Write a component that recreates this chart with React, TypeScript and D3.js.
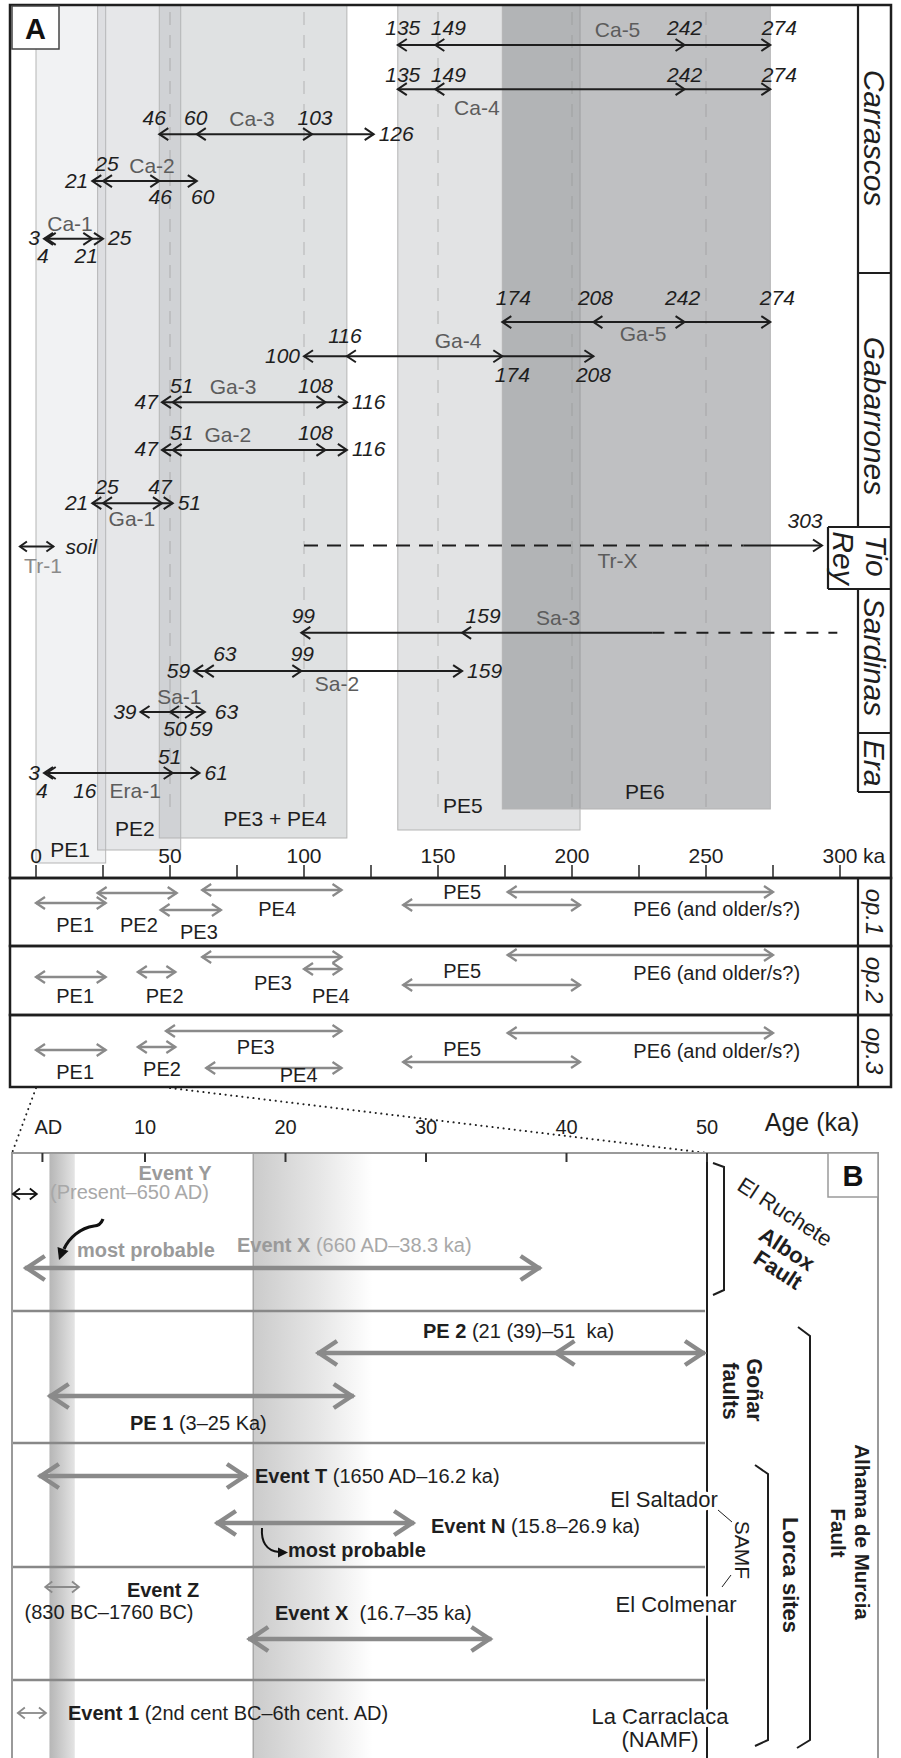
import React from 'react';
import * as d3 from 'd3';

const FONT = '"Liberation Sans", Arial, Helvetica, sans-serif';
const W = 901;
const H = 1758;

// ---------- panel A : trench ages (ka) ----------
const trenches = ['Ca-5', 'Ca-4', 'Ca-3', 'Ca-2', 'Ca-1', 'Ga-5', 'Ga-4', 'Ga-3', 'Ga-2', 'Ga-1', 'Sa-3', 'Sa-2', 'Sa-1', 'Era-1'];
const ageMin = [135, 135, 46, 21, 3, 174, 100, 47, 47, 21, 99, 59, 39, 3];
const ageMinInner = [149, 149, 60, 25, 4, 208, 116, 51, 51, 25, 159, 63, 50, 4];
const ageMaxInner = [242, 242, 103, 46, 21, 242, 174, 108, 108, 47, null, 99, 59, 51];
const ageMax = [274, 274, 126, 60, 25, 274, 208, 116, 116, 51, null, 159, 63, 61];
const sa3Open = [230, 299]; // solid until, dashed until
const trX = [100, 264, 303]; // dashed from, solid from, arrow to
const soilSpan = [-6, 6.5];
const era1Extra = 16;

const bands = ['PE1', 'PE2', 'PE3 + PE4', 'PE5', 'PE6'];
const bandFrom = [0, 23, 46, 135, 174];
const bandTo = [26, 54, 116, 203, 274];

const sites = ['Carrascos', 'Gabarrones', 'Tio', 'Sardinas', 'Era'];
const ticksA = d3.range(0, 301, 25);
const gridA = [50, 100, 150, 200, 250];

// ---------- options ----------
const opNames = ['op.1', 'op.2', 'op.3'];
const opEvents = ['PE1', 'PE2', 'PE3', 'PE4', 'PE5', 'PE6 (and older/s?)'];
const op1From = [0, 23, 46.5, 62, 137, 176];
const op1To = [26, 52.5, 69, 114, 203, 275];
const op2From = [0, 38, 62, 100, 137, 176];
const op2To = [26, 52, 114, 114, 203, 275];
const op3From = [0, 38, 48.5, 63.5, 137, 176];
const op3To = [26, 52, 114, 114, 203, 275];

// ---------- panel B ----------
const bTickVals = [2.7, 10, 20, 30, 40, 50];
const bTickLabels = ['AD', '10', '20', '30', '40', '50'];
const bEventNames = ['Event Y', 'Event X', 'PE 2', 'PE 1', 'Event T', 'Event N', 'Event Z', 'Event X', 'Event 1'];
const bEventRanges = ['(Present–650 AD)', ' (660 AD–38.3 ka)', ' (21 (39)–51  ka)', ' (3–25 Ka)', ' (1650 AD–16.2 ka)', ' (15.8–26.9 ka)', '(830 BC–1760 BC)', '  (16.7–35 ka)', ' (2nd cent BC–6th cent. AD)'];
const bFrom = [0.6, 1.3, 22.1, 3, 2.3, 14.9, 2.9, 17.2, 0.95];
const bTo = [2.3, 38.3, 50, 25, 17.4, 29.3, 5.3, 34.8, 2.95];
const pe2Inner = 39;
const bBandFrom = [3.2, 17.7];
const bBandTo = [5, 26.2];

// ---------- layout ----------
const xA = d3.scaleLinear().domain([0, 300]).range([36, 840]);
const xB = d3.scaleLinear().domain([10, 50]).range([145, 707]);
const lane = d3.scaleLinear().domain([0, 16]).range([45, 773]);

const laneOf = [0, 0.97, 1.96, 2.99, 4.26, 6.09, 6.84, 7.85, 8.9, 10.07, 12.92, 13.76, 14.66, 16];
const trLane = 11;
const numSide = ['AAAA', 'AAAA', 'AAAR', 'LABB', 'LBBR', 'AAAA', 'LABB', 'LAAR', 'LAAR', 'LAAR', 'AA--', 'LAAR', 'LBBR', 'LBAR'];
const numNudge = [
  [2, 10, -3, 6], [2, 10, -3, 6], [-8, -4, 0, 0], [0, 1, -2, 3], [0, -7, -9, 0],
  [8, -1, -5, 4], [0, -5, 7, -3], [0, 6, -13, 0], [0, 6, -13, 0], [0, 1, -5, 0],
  [-1, 18, 0, 0], [0, 17, -2, 0], [0, 2, 4, 5], [0, -8, -6, 0],
];
const aboveGap = [10, 7, 9, 10, 10, 17, 13, 9, 10, 9, 10, 10, 10, 9];
const belowGap = [24, 26, 24, 23, 24, 19, 26, 24, 24, 23, 24, 20, 24, 25];
const nameAt = [217, 164.5, 80.6, 43.3, 12.7, 226.5, 157.5, 73.5, 71.6, 35.8, 194.8, 112.3, 53.5, 37];
const nameSide = 'ABAAABAAABABAB';

const bandFill = ['#c9cdd0', '#b8bbbf', '#b0b3b7', '#b0b3b7', '#8d8f92'];
const bandOpacity = [0.25, 0.35, 0.4, 0.37, 0.56];
const bandBottom = [863, 850, 838, 830, 809];
const bandLabelAt = [12.7, 36.9, 89.2, 159.3, 227.2];
const bandLabelY = [857, 836, 826, 813, 799];

const siteTop = [5, 273, 527, 589, 733];
const siteBottom = [273, 527, 589, 733, 792];
const siteLabelY = [138, 416, 556, 657, 763];

const opTop = [878, 946, 1015];
const opBottom = 1087;
const opFrom = [op1From, op2From, op3From];
const opTo = [op1To, op2To, op3To];
const opArrowDy = [[25, 15, 32, 12, 27, 14], [31, 26, 11, 23, 39, 9], [35, 32, 16, 53, 47, 18]];
const opLabelKa = [[14.6, 38.4, 60.8, 90, 159, 254], [14.6, 48, 88.4, 110, 159, 254], [14.6, 47, 82, 98, 159, 254]];
const opLabelDy = [[54, 54, 61, 38, 21, 38], [57, 57, 44, 57, 32, 34], [64, 61, 39, 67, 41, 43]];
const opLabelY = [912, 980, 1051];

const bTop = 1153;
const bRowY = [1194, 1268, 1353, 1396, 1476, 1523, 1587, 1639, 1713];
const bKind = ['thinBlack', 'thick', 'thick', 'thick', 'thick', 'thick', 'thinGray', 'thick', 'thinGray'];
const bSeparators = [1311, 1443, 1567, 1680];

const INK = '#1e1e1e';
const GREY_NAME = '#5c5c5c';
const ARROW_B = '#8a8a8a';

const Head = ({ x, y, dir, dx, dy, color, sw }) => (
  <path
    d={`M${x - dir * dx},${y - dy}L${x},${y}L${x - dir * dx},${y + dy}`}
    fill="none"
    stroke={color}
    strokeWidth={sw}
    strokeLinejoin="miter"
  />
);

const Rot = ({ x, y, angle = 90, children, ...rest }) => (
  <text transform={`translate(${x},${y}) rotate(${angle})`} textAnchor="middle" dominantBaseline="central" {...rest}>
    {children}
  </text>
);

function TrenchRow({ i }) {
  const y = lane(laneOf[i]);
  const ages = [ageMin[i], ageMinInner[i], ageMaxInner[i], ageMax[i]];
  const dirs = [-1, -1, 1, 1];
  const x0 = xA(ageMin[i]);
  const open = ageMax[i] == null;
  const x1 = open ? xA(sa3Open[0]) : xA(ageMax[i]);
  const sides = numSide[i];
  const num = (a, k) => {
    const s = sides[k];
    if (s === '-' || a == null) return null;
    const x = xA(a);
    const nd = numNudge[i][k];
    let tx = x + 3 + nd, ty = y - aboveGap[i], anchor = 'middle';
    if (s === 'B') ty = y + belowGap[i];
    if (s === 'L') { tx = x - 4 + nd; ty = y + 6.5; anchor = 'end'; }
    if (s === 'R') { tx = x + 5 + nd; ty = y + 6.5; anchor = 'start'; }
    return (
      <text key={k} x={tx} y={ty} textAnchor={anchor} fontStyle="italic" fontSize={21} fill={INK}>
        {a}
      </text>
    );
  };
  return (
    <g>
      <line x1={x0} x2={x1} y1={y} y2={y} stroke={INK} strokeWidth={2} />
      {open && (
        <line x1={x1} x2={xA(sa3Open[1])} y1={y} y2={y} stroke={INK} strokeWidth={2} strokeDasharray="12 10" />
      )}
      {ages.map((a, k) =>
        a == null ? null : <Head key={k} x={xA(a)} y={y} dir={dirs[k]} dx={9} dy={6} color={INK} sw={2} />
      )}
      {ages.map(num)}
      {trenches[i] === 'Era-1' && (
        <text x={xA(era1Extra) + 6} y={y + belowGap[i]} textAnchor="middle" fontStyle="italic" fontSize={21} fill={INK}>
          {era1Extra}
        </text>
      )}
      <text
        x={xA(nameAt[i])}
        y={nameSide[i] === 'A' ? y - 8 : y + belowGap[i]}
        textAnchor="middle"
        fontSize={21}
        fill={GREY_NAME}
      >
        {trenches[i]}
      </text>
    </g>
  );
}

function BArrow({ i }) {
  const y = bRowY[i];
  const a = xB(bFrom[i]);
  const b = Math.min(xB(bTo[i]), xB(50));
  if (bKind[i] === 'thick') {
    const sw = 4.5;
    return (
      <g>
        <line x1={a + 2} x2={b - 2} y1={y} y2={y} stroke={ARROW_B} strokeWidth={sw} />
        <Head x={a + 4} y={y} dir={-1} dx={18} dy={12} color={ARROW_B} sw={sw} />
        <Head x={b - 4} y={y} dir={1} dx={18} dy={12} color={ARROW_B} sw={sw} />
        {i === 2 && <Head x={xB(pe2Inner) + 4} y={y} dir={-1} dx={18} dy={12} color={ARROW_B} sw={sw} />}
      </g>
    );
  }
  const c = bKind[i] === 'thinBlack' ? '#111' : '#8a8a8a';
  return (
    <g>
      <line x1={a} x2={b} y1={y} y2={y} stroke={c} strokeWidth={1.8} />
      <Head x={a} y={y} dir={-1} dx={7} dy={5.5} color={c} sw={1.8} />
      <Head x={b} y={y} dir={1} dx={7} dy={5.5} color={c} sw={1.8} />
    </g>
  );
}

const LabelB = ({ x, y, bold, rest, anchor = 'start', boldFill = INK, restFill = INK }) => (
  <text x={x} y={y} textAnchor={anchor} fontSize={20} style={{ whiteSpace: 'pre' }}>
    <tspan fontWeight="bold" fill={boldFill}>{bold}</tspan>
    <tspan fill={restFill}>{rest}</tspan>
  </text>
);

export default function App() {
  const trY = lane(trLane);
  const trXEnd = Math.min(xA(trX[2]), 822);
  const halo = { stroke: '#fff', strokeWidth: 7, paintOrder: 'stroke' as const };

  return (
    <svg
      width={W}
      height={H}
      viewBox={`0 0 ${W} ${H}`}
      style={{ position: 'absolute', left: 0, top: 0, display: 'block' }}
      fontFamily={FONT}
    >
      <defs>
        <linearGradient id="bandB0" x1="0" x2="1" y1="0" y2="0">
          <stop offset="0" stopColor="#b6b6b6" />
          <stop offset="1" stopColor="#e4e4e4" />
        </linearGradient>
        <linearGradient id="bandB1" x1="0" x2="1" y1="0" y2="0">
          <stop offset="0" stopColor="#cbcbcb" />
          <stop offset="0.55" stopColor="#e6e6e6" />
          <stop offset="1" stopColor="#ffffff" />
        </linearGradient>
      </defs>
      <rect width={W} height={H} fill="#fff" />

      {/* ===== panel A ===== */}
      {bands.map((b, k) => (
        <rect
          key={b}
          x={xA(bandFrom[k])}
          y={5}
          width={xA(bandTo[k]) - xA(bandFrom[k])}
          height={bandBottom[k] - 5}
          fill={bandFill[k]}
          fillOpacity={bandOpacity[k]}
          stroke="#b5b5b5"
          strokeWidth={1}
        />
      ))}
      {gridA.map((v) => (
        <line key={v} x1={xA(v)} x2={xA(v)} y1={12} y2={812} stroke="#8f8f8f" strokeOpacity={0.35} strokeWidth={1.6} strokeDasharray="13 10" />
      ))}
      {bands.map((b, k) => (
        <text key={b} x={xA(bandLabelAt[k])} y={bandLabelY[k]} textAnchor="middle" fontSize={21} fill={INK}>
          {b}
        </text>
      ))}

      {trenches.map((t, i) => <TrenchRow key={t} i={i} />)}

      {/* Tr-1 soil */}
      <g>
        <line x1={xA(soilSpan[0])} x2={xA(soilSpan[1])} y1={trY + 1} y2={trY + 1} stroke={INK} strokeWidth={2} />
        <Head x={xA(soilSpan[0])} y={trY + 1} dir={-1} dx={7} dy={5} color={INK} sw={2} />
        <Head x={xA(soilSpan[1])} y={trY + 1} dir={1} dx={7} dy={5} color={INK} sw={2} />
        <text x={xA(soilSpan[1]) + 12} y={trY + 8} fontStyle="italic" fontSize={21} fill={INK}>soil</text>
        <text x={xA(2.6)} y={trY + 27} textAnchor="middle" fontSize={21} fill="#8a8a8a">Tr-1</text>
      </g>
      {/* Tr-X */}
      <g>
        <line x1={xA(trX[0])} x2={xA(trX[1])} y1={trY} y2={trY} stroke={INK} strokeWidth={2} strokeDasharray="14 9" />
        <line x1={xA(trX[1])} x2={trXEnd} y1={trY} y2={trY} stroke={INK} strokeWidth={2} />
        <Head x={trXEnd} y={trY} dir={1} dx={9} dy={6} color={INK} sw={2} />
        <text x={trXEnd - 17} y={trY - 18} textAnchor="middle" fontStyle="italic" fontSize={21} fill={INK}>{trX[2]}</text>
        <text x={xA(217)} y={trY + 22} textAnchor="middle" fontSize={21} fill={GREY_NAME}>Tr-X</text>
      </g>

      {/* frame + site column */}
      <rect x={10} y={5} width={881} height={873} fill="none" stroke={INK} strokeWidth={2.5} />
      <line x1={858} x2={858} y1={5} y2={527} stroke={INK} strokeWidth={2.2} />
      <line x1={858} x2={858} y1={589} y2={792} stroke={INK} strokeWidth={2.2} />
      <line x1={828} x2={828} y1={527} y2={589} stroke={INK} strokeWidth={2.2} />
      {sites.map((s, k) => (
        <line
          key={s}
          x1={k === 2 || k === 3 ? 828 : 858}
          x2={891}
          y1={siteTop[k]}
          y2={siteTop[k]}
          stroke={INK}
          strokeWidth={2.2}
        />
      ))}
      <line x1={858} x2={891} y1={siteBottom[4]} y2={siteBottom[4]} stroke={INK} strokeWidth={2.2} />
      {sites.map((s, k) =>
        k === 2 ? (
          <g key={s}>
            <Rot x={876} y={siteLabelY[k]} fontStyle="italic" fontSize={30} fill={INK}>Tio</Rot>
            <Rot x={843} y={siteLabelY[k] + 2} fontStyle="italic" fontSize={30} fill={INK}>Rey</Rot>
          </g>
        ) : (
          <Rot key={s} x={874} y={siteLabelY[k]} fontStyle="italic" fontSize={30} fill={INK}>{s}</Rot>
        )
      )}

      {/* axis A */}
      {ticksA.map((v) => (
        <line key={v} x1={xA(v)} x2={xA(v)} y1={865} y2={878} stroke="#333" strokeWidth={1.6} />
      ))}
      {ticksA.filter((v) => v % 50 === 0).map((v) => (
        <text key={v} x={xA(v)} y={863} textAnchor="middle" fontSize={21} fill={INK}>{v}</text>
      ))}
      <text x={xA(300) + 23} y={863} fontSize={21} fill={INK}>ka</text>

      {/* A label */}
      <rect x={12} y={6} width={47} height={43} fill="#fff" stroke="#444" strokeWidth={1.5} />
      <text x={35.5} y={39} textAnchor="middle" fontWeight="bold" fontSize={29} fill="#111">A</text>

      {/* ===== options ===== */}
      {opNames.map((o, r) => (
        <g key={o}>
          <rect x={10} y={opTop[r]} width={881} height={(r < 2 ? opTop[r + 1] : opBottom) - opTop[r]} fill="none" stroke={INK} strokeWidth={2.5} />
          <line x1={858} x2={858} y1={opTop[r]} y2={r < 2 ? opTop[r + 1] : opBottom} stroke={INK} strokeWidth={2.2} />
          <Rot x={874} y={opLabelY[r]} fontStyle="italic" fontSize={24} fill={INK}>{o}</Rot>
          {opEvents.map((e, k) => {
            const y = opTop[r] + opArrowDy[r][k];
            const a = xA(opFrom[r][k]);
            const b = xA(opTo[r][k]);
            return (
              <g key={e}>
                <line x1={a} x2={b} y1={y} y2={y} stroke="#8a8a8a" strokeWidth={2.3} />
                <Head x={a} y={y} dir={-1} dx={9} dy={6} color="#8a8a8a" sw={2.3} />
                <Head x={b} y={y} dir={1} dx={9} dy={6} color="#8a8a8a" sw={2.3} />
              </g>
            );
          })}
          {opEvents.map((e, k) => (
            <text key={e} x={xA(opLabelKa[r][k])} y={opTop[r] + opLabelDy[r][k]} textAnchor="middle" fontSize={20} fill={INK}>
              {e}
            </text>
          ))}
        </g>
      ))}

      {/* zoom connectors */}
      <line x1={xA(0)} y1={opBottom + 1} x2={12} y2={bTop} stroke="#222" strokeWidth={2} strokeDasharray="0.1 5.5" strokeLinecap="round" />
      <line x1={xA(50)} y1={opBottom + 1} x2={xB(50)} y2={bTop} stroke="#222" strokeWidth={2} strokeDasharray="0.1 5.5" strokeLinecap="round" />

      {/* ===== panel B ===== */}
      {bBandFrom.map((v, k) => (
        <rect key={k} x={xB(v)} y={bTop} width={xB(bBandTo[k]) - xB(v)} height={H - bTop} fill={`url(#bandB${k})`} />
      ))}
      <line x1={xB(bBandFrom[1])} x2={xB(bBandFrom[1])} y1={bTop} y2={H} stroke="#9a9a9a" strokeWidth={1.2} />

      {bSeparators.map((y) => (
        <line key={y} x1={12} x2={705} y1={y} y2={y} stroke="#888" strokeWidth={2.5} />
      ))}

      <path d={`M12,${H}L12,${bTop}L878,${bTop}L878,${H}`} fill="none" stroke="#9a9a9a" strokeWidth={2} />
      <line x1={707} x2={707} y1={bTop} y2={H} stroke={INK} strokeWidth={2} />

      {bTickVals.map((v, k) => (
        <g key={k}>
          <line x1={xB(v)} x2={xB(v)} y1={bTop} y2={bTop + 9} stroke="#333" strokeWidth={2} />
          <text x={xB(v) + (k === 0 ? 6 : 0)} y={1134} textAnchor="middle" fontSize={20} fill={INK}>{bTickLabels[k]}</text>
        </g>
      ))}
      <text x={812} y={1131} textAnchor="middle" fontSize={25} fill={INK}>Age (ka)</text>

      <rect x={828} y={bTop} width={50} height={44} fill="#fff" stroke="#9a9a9a" strokeWidth={1.5} />
      <text x={853} y={1186} textAnchor="middle" fontWeight="bold" fontSize={29} fill="#111">B</text>

      {bEventNames.map((n, i) => <BArrow key={i} i={i} />)}

      {/* row 1: Albox */}
      <text x={175} y={1180} textAnchor="middle" fontWeight="bold" fontSize={20} fill="#9a9a9a">{bEventNames[0]}</text>
      <text x={50} y={1199} fontSize={20} fill="#a8a8a8">{bEventRanges[0]}</text>
      <text x={77} y={1257} fontWeight="bold" fontSize={20} fill="#9a9a9a">most probable</text>
      <LabelB x={237} y={1252} bold={bEventNames[1]} rest={bEventRanges[1]} boldFill="#9a9a9a" restFill="#a8a8a8" />
      <path d="M103,1219 C101,1224 98,1226 94,1226 C80,1228 69,1238 64,1249" fill="none" stroke="#111" strokeWidth={3.2} />
      <path d="M59,1260 L57.5,1247 L68.5,1251 Z" fill="#111" />

      {/* row 2: Goñar */}
      <LabelB x={423} y={1338} bold={bEventNames[2]} rest={bEventRanges[2]} />
      <LabelB x={130} y={1430} bold={bEventNames[3]} rest={bEventRanges[3]} />

      {/* rows 3-5: Lorca */}
      <LabelB x={255} y={1483} bold={bEventNames[4]} rest={bEventRanges[4]} />
      <LabelB x={431} y={1533} bold={bEventNames[5]} rest={bEventRanges[5]} />
      <text x={288} y={1557} fontWeight="bold" fontSize={20} fill={INK}>most probable</text>
      <path d="M262,1528 C261,1541 266,1551 279,1552" fill="none" stroke="#111" strokeWidth={2} />
      <path d="M288,1552.5 L278,1547.5 L278,1557.5 Z" fill="#111" />
      <text x={163} y={1597} textAnchor="middle" fontWeight="bold" fontSize={20} fill={INK}>{bEventNames[6]}</text>
      <text x={109} y={1619} textAnchor="middle" fontSize={20} fill={INK}>{bEventRanges[6]}</text>
      <LabelB x={275} y={1620} bold={bEventNames[7]} rest={bEventRanges[7]} />
      <LabelB x={68} y={1720} bold={bEventNames[8]} rest={bEventRanges[8]} />

      {/* right side: sites and faults */}
      <text x={664} y={1507} textAnchor="middle" fontSize={22} fill={INK} style={halo}>El Saltador</text>
      <text x={676} y={1612} textAnchor="middle" fontSize={22} fill={INK} style={halo}>El Colmenar</text>
      <text x={660} y={1724} textAnchor="middle" fontSize={22} fill={INK} style={halo}>La Carraclaca</text>
      <text x={660} y={1747} textAnchor="middle" fontSize={22} fill={INK} style={halo}>(NAMF)</text>
      <Rot x={742} y={1550} fontSize={21} fill={INK}>SAMF</Rot>
      <line x1={718} y1={1510} x2={732} y2={1522} stroke={INK} strokeWidth={1} />
      <line x1={722} y1={1587} x2={731} y2={1575} stroke={INK} strokeWidth={1} />

      <path d="M713,1163 L724,1167 L724,1290 L713,1295" fill="none" stroke={INK} strokeWidth={2} />
      <path d="M798,1327 L810,1336 L810,1740 L797,1748" fill="none" stroke={INK} strokeWidth={2} />
      <path d="M755,1465 L768,1474 L768,1740 L755,1746" fill="none" stroke={INK} strokeWidth={2} />

      <Rot x={785} y={1212} angle={33} fontSize={22} fill={INK}>El Ruchete</Rot>
      <Rot x={787} y={1249} angle={33} fontSize={22} fontWeight="bold" fill={INK}>Albox</Rot>
      <Rot x={778} y={1270} angle={33} fontSize={22} fontWeight="bold" fill={INK}>Fault</Rot>
      <Rot x={754} y={1390} fontSize={21.5} fontWeight="bold" fill={INK}>Goñar</Rot>
      <Rot x={730} y={1391} fontSize={21.5} fontWeight="bold" fill={INK}>faults</Rot>
      <Rot x={790} y={1575} fontSize={22} fontWeight="bold" fill={INK}>Lorca sites</Rot>
      <Rot x={862} y={1532} fontSize={20.5} fontWeight="bold" fill={INK}>Alhama de Murcia</Rot>
      <Rot x={838} y={1533} fontSize={20.5} fontWeight="bold" fill={INK}>Fault</Rot>
    </svg>
  );
}
